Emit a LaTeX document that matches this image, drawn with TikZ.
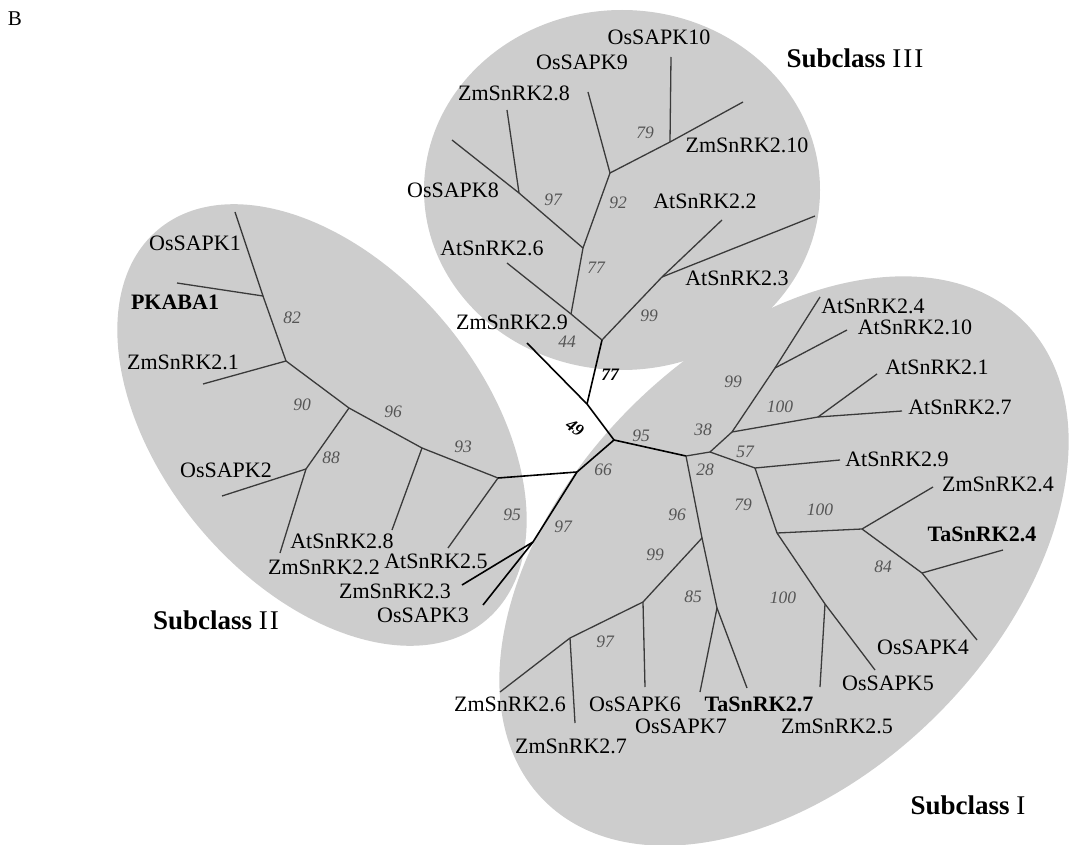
\documentclass[tikz,border=0pt]{standalone}
\usepackage{fontspec}
\setmainfont{Liberation Serif}
\definecolor{ellgray}{HTML}{CDCDCD}
\definecolor{bsgray}{HTML}{555555}
\definecolor{linegray}{HTML}{3A3A3A}
\begin{document}
\begin{tikzpicture}[x=1pt,y=-1pt,
  lab/.style={font=\fontsize{22}{24}\selectfont, inner sep=0pt},
  blab/.style={font=\fontsize{22}{24}\selectfont\bfseries, inner sep=0pt},
  bs/.style={font=\fontsize{17.5}{20}\selectfont\itshape, text=bsgray, inner sep=0pt},
  bsb/.style={font=\fontsize{17.5}{20}\selectfont\bfseries\itshape, inner sep=0pt},
  br/.style={draw=linegray, line width=1.3pt},
  core/.style={draw=black, line width=1.6pt},
  sub/.style={font=\fontsize{27}{30}\selectfont, inner sep=0pt}]
\useasboundingbox (0,0) rectangle (1069,845);

% ellipses
\begin{scope}[shift={(784,561)}, rotate=45]
  \fill[ellgray] (0,0) ellipse [x radius=339pt, y radius=217pt];
\end{scope}
\begin{scope}[shift={(322,425)}, rotate=-50]
  \fill[ellgray] (0,0) ellipse [x radius=255pt, y radius=160pt];
\end{scope}
\fill[ellgray] (622,190) ellipse [x radius=198pt, y radius=180pt];

% core
\coordinate (C) at (614,440);
\coordinate (n49) at (587,404);
\coordinate (zm29) at (527,343);
\coordinate (n602) at (602,340);
% subclass III
\coordinate (n44) at (571,314);
\coordinate (at26) at (507,263);
\coordinate (n77) at (583,248);
\coordinate (n97) at (519,193);
\coordinate (zm28) at (507,110);
\coordinate (os8) at (452,140);
\coordinate (n92) at (610,173);
\coordinate (os9) at (588,92);
\coordinate (n79) at (670,142);
\coordinate (os10) at (671,57);
\coordinate (zm210) at (743,102);
\coordinate (n99) at (662,277);
\coordinate (at22) at (722,220);
\coordinate (at23) at (815,216);
% subclass II
\coordinate (n66) at (577,472);
\coordinate (n97b) at (533,542);
\coordinate (zm23) at (462,585);
\coordinate (os3) at (483,605);
\coordinate (n95b) at (498,478);
\coordinate (at25) at (448,548);
\coordinate (n93) at (422,448);
\coordinate (at28) at (392,530);
\coordinate (n96) at (349,408);
\coordinate (n88) at (306,469);
\coordinate (os2) at (222,496);
\coordinate (zm22) at (280,553);
\coordinate (n82) at (286,361);
\coordinate (zm21) at (203,384);
\coordinate (n82a) at (263,296);
\coordinate (pk) at (177,283);
\coordinate (os1) at (235,212);
% subclass I
\coordinate (n95) at (686,456);
\coordinate (n28) at (710,452);
\coordinate (n38) at (732,432);
\coordinate (n100a) at (818,417);
\coordinate (at27) at (902,411);
\coordinate (at21) at (877,374);
\coordinate (n99a) at (775,368);
\coordinate (at24) at (820,297);
\coordinate (at210) at (847,330);
\coordinate (n57) at (755,468);
\coordinate (at29) at (840,460);
\coordinate (n79b) at (777,533);
\coordinate (n100b) at (862,529);
\coordinate (zm24) at (933,487);
\coordinate (n84) at (922,573);
\coordinate (ta24) at (1003,550);
\coordinate (os4) at (977,640);
\coordinate (n100c) at (825,604);
\coordinate (os5) at (875,670);
\coordinate (zm25) at (820,687);
\coordinate (n99b) at (702,538);
\coordinate (n85) at (717,608);
\coordinate (os7) at (700,692);
\coordinate (ta27) at (747,688);
\coordinate (n97c) at (643,602);
\coordinate (os6) at (645,687);
\coordinate (n97d) at (570,638);
\coordinate (zm26) at (500,692);
\coordinate (zm27) at (575,723);

% core edges
\draw[core] (C) -- (n49);
\draw[core] (n49) -- (zm29);
\draw[core] (n49) -- (n602);
\draw[core] (C) -- (n66);
\draw[core] (n66) -- (n97b);
\draw[core] (n97b) -- (zm23);
\draw[core] (n97b) -- (os3);
\draw[core] (n66) -- (n95b);
\draw[core] (C) -- (n95);
% subclass III edges
\draw[br] (n602) -- (n44);
\draw[br] (n44) -- (at26);
\draw[br] (n44) -- (n77);
\draw[br] (n77) -- (n97);
\draw[br] (n97) -- (os8);
\draw[br] (n97) -- (zm28);
\draw[br] (n77) -- (n92);
\draw[br] (n92) -- (os9);
\draw[br] (n92) -- (n79);
\draw[br] (n79) -- (os10);
\draw[br] (n79) -- (zm210);
\draw[br] (n602) -- (n99);
\draw[br] (n99) -- (at22);
\draw[br] (n99) -- (at23);
% subclass II edges
\draw[br] (n95b) -- (at25);
\draw[br] (n95b) -- (n93);
\draw[br] (n93) -- (at28);
\draw[br] (n93) -- (n96);
\draw[br] (n96) -- (n88);
\draw[br] (n88) -- (os2);
\draw[br] (n88) -- (zm22);
\draw[br] (n96) -- (n82);
\draw[br] (n82) -- (zm21);
\draw[br] (n82) -- (n82a);
\draw[br] (n82a) -- (pk);
\draw[br] (n82a) -- (os1);
% subclass I edges
\draw[br] (n95) -- (n28);
\draw[br] (n28) -- (n38);
\draw[br] (n38) -- (n100a);
\draw[br] (n100a) -- (at27);
\draw[br] (n100a) -- (at21);
\draw[br] (n38) -- (n99a);
\draw[br] (n99a) -- (at24);
\draw[br] (n99a) -- (at210);
\draw[br] (n28) -- (n57);
\draw[br] (n57) -- (at29);
\draw[br] (n57) -- (n79b);
\draw[br] (n79b) -- (n100b);
\draw[br] (n100b) -- (zm24);
\draw[br] (n100b) -- (n84);
\draw[br] (n84) -- (ta24);
\draw[br] (n84) -- (os4);
\draw[br] (n79b) -- (n100c);
\draw[br] (n100c) -- (os5);
\draw[br] (n100c) -- (zm25);
\draw[br] (n95) -- (n99b);
\draw[br] (n99b) -- (n85);
\draw[br] (n85) -- (os7);
\draw[br] (n85) -- (ta27);
\draw[br] (n99b) -- (n97c);
\draw[br] (n97c) -- (os6);
\draw[br] (n97c) -- (n97d);
\draw[br] (n97d) -- (zm26);
\draw[br] (n97d) -- (zm27);

% leaf labels subclass III
\node[lab] (tos10) at (659,37) {OsSAPK10};
\node[lab] (tos9) at (582,62) {OsSAPK9};
\node[lab] (tzm28) at (514,93) {ZmSnRK2.8};
\node[lab] (tos8) at (453,190) {OsSAPK8};
\node[lab] (tzm210) at (747,145) {ZmSnRK2.10};
\node[lab] (tat22) at (705,201) {AtSnRK2.2};
\node[lab] (tat26) at (492,248) {AtSnRK2.6};
\node[lab] (tat23) at (737,278) {AtSnRK2.3};
\node[lab] (tzm29) at (512,322) {ZmSnRK2.9};
% leaf labels subclass II
\node[lab] (tos1) at (195,243) {OsSAPK1};
\node[blab] (tpk) at (175,302) {PKABA1};
\node[lab] (tzm21) at (183,362) {ZmSnRK2.1};
\node[lab] (tos2) at (226,470) {OsSAPK2};
\node[lab] (tat28) at (342,541) {AtSnRK2.8};
\node[lab] (tzm22) at (324,567) {ZmSnRK2.2};
\node[lab] (tat25) at (436,561) {AtSnRK2.5};
\node[lab] (tzm23) at (395,591) {ZmSnRK2.3};
\node[lab] (tos3) at (423,615) {OsSAPK3};
% leaf labels subclass I
\node[lab] (tat24) at (873,306) {AtSnRK2.4};
\node[lab] (tat210) at (915,327) {AtSnRK2.10};
\node[lab] (tat21) at (937,367) {AtSnRK2.1};
\node[lab] (tat27) at (960,407) {AtSnRK2.7};
\node[lab] (tat29) at (897,459) {AtSnRK2.9};
\node[lab] (tzm24) at (998,484) {ZmSnRK2.4};
\node[blab] (tta24) at (982,534) {TaSnRK2.4};
\node[lab] (tos4) at (923,647) {OsSAPK4};
\node[lab] (tos5) at (888,683) {OsSAPK5};
\node[lab] (tzm25) at (837,726) {ZmSnRK2.5};
\node[blab] (tta27) at (759,704) {TaSnRK2.7};
\node[lab] (tos7) at (681,726) {OsSAPK7};
\node[lab] (tos6) at (635,704) {OsSAPK6};
\node[lab] (tzm27) at (571,746) {ZmSnRK2.7};
\node[lab] (tzm26) at (510,704) {ZmSnRK2.6};

% bootstrap values
\node[bs] (b79) at (645,133) {79};
\node[bs] (b97) at (553,200) {97};
\node[bs] (b92) at (618,203) {92};
\node[bs] (b77) at (596,268) {77};
\node[bs] (b99) at (649,316) {99};
\node[bs] (b44) at (567,342) {44};
\node[bsb] (b77b) at (610,375) {77};
\node[bsb, rotate=-35] (b49) at (575,428) {49};
\node[bs] (b82) at (292,318) {82};
\node[bs] (b90) at (302,405) {90};
\node[bs] (b96) at (393,412) {96};
\node[bs] (b93) at (463,447) {93};
\node[bs] (b88) at (331,458) {88};
\node[bs] (b95b) at (512,515) {95};
\node[bs] (b66) at (603,470) {66};
\node[bs] (b97b) at (563,527) {97};
\node[bs] (b95) at (641,436) {95};
\node[bs] (b38) at (703,430) {38};
\node[bs] (b28) at (705,470) {28};
\node[bs] (b99a) at (733,382) {99};
\node[bs] (b100a) at (780,407) {100};
\node[bs] (b57) at (745,452) {57};
\node[bs] (b79b) at (743,505) {79};
\node[bs] (b100b) at (820,510) {100};
\node[bs] (b84) at (883,567) {84};
\node[bs] (b100c) at (783,598) {100};
\node[bs] (b96b) at (677,515) {96};
\node[bs] (b99b) at (655,555) {99};
\node[bs] (b85) at (693,597) {85};
\node[bs] (b97c) at (605,642) {97};

% subclass titles and panel letter
\node[sub] (s1) at (968,805) {\textbf{Subclass}~I};
\node[sub] (s2) at (216,620) {\textbf{Subclass}~I\kern2pt I};
\node[sub] (s3) at (855,58) {\textbf{Subclass}~I\kern2pt I\kern2pt I};
\node[font=\fontsize{21}{24}\selectfont, inner sep=0pt] (pB) at (15,19) {B};
\end{tikzpicture}
\end{document}
